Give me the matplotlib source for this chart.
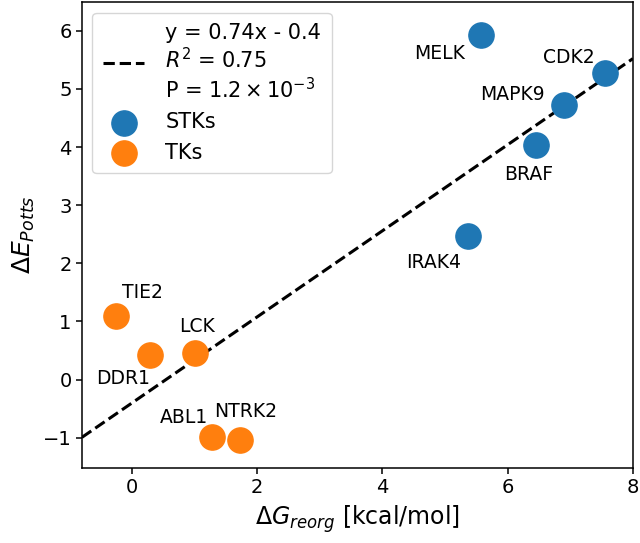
import numpy as np
import matplotlib
matplotlib.use("Agg")
import matplotlib.pyplot as plt

# STKs (blue)
STK_NAMES = ["MELK", "CDK2", "MAPK9", "BRAF", "IRAK4"]
STK_DG = [5.57, 7.56, 6.90, 6.45, 5.37]
STK_DE = [5.92, 5.27, 4.72, 4.03, 2.47]

# TKs (orange)
TK_NAMES = ["TIE2", "DDR1", "LCK", "ABL1", "NTRK2"]
TK_DG = [-0.26, 0.28, 1.01, 1.28, 1.73]
TK_DE = [1.09, 0.43, 0.46, -0.98, -1.03]

FIT_SLOPE = 0.74
FIT_INTERCEPT = -0.4

# label offsets in points (dx, dy)
LABEL_OFFSETS = {
    "MELK": (-30, -13), "CDK2": (-26, 11), "MAPK9": (-37, 8), "BRAF": (-5, -21),
    "IRAK4": (-25, -19), "TIE2": (19, 17), "DDR1": (-19, -17), "LCK": (1, 19),
    "ABL1": (-20, 14), "NTRK2": (4, 20),
}

plt.rcParams["axes.linewidth"] = 1.1

fig = plt.figure(figsize=(6.4, 5.43), dpi=100)
ax = fig.add_axes([0.128, 0.138, 0.861, 0.858])

xlim = (-0.8, 8.0)
xs = np.linspace(xlim[0], xlim[1], 50)
fit_label = "y = 0.74x - 0.4\n$R^2$ = 0.75\nP = $1.2 \\times 10^{-3}$"
ax.plot(xs, FIT_SLOPE * xs + FIT_INTERCEPT, "k--", lw=2.2, label=fit_label)

ax.scatter(STK_DG, STK_DE, s=330, color="#1f77b4", label="STKs", zorder=3)
ax.scatter(TK_DG, TK_DE, s=330, color="#ff7f0e", label="TKs", zorder=3)

for names, xv, yv in ((STK_NAMES, STK_DG, STK_DE), (TK_NAMES, TK_DG, TK_DE)):
    for name, x, y in zip(names, xv, yv):
        ax.annotate(name, (x, y), xytext=LABEL_OFFSETS[name], textcoords="offset points",
                    ha="center", va="center", fontsize=13.5)

ax.set_xlim(*xlim)
ax.set_ylim(-1.52, 6.49)
ax.set_xticks([0, 2, 4, 6, 8])
ax.set_yticks(range(-1, 7))
ax.tick_params(labelsize=14, width=1.1, length=4)
ax.set_xlabel(r"$\Delta G_{reorg}$ [kcal/mol]", fontsize=17)
ax.set_ylabel(r"$\Delta E_{Potts}$", fontsize=18)
ax.legend(loc="upper left", fontsize=15, borderpad=0.5, handletextpad=1.0)

fig.savefig("out.png", dpi=100)
